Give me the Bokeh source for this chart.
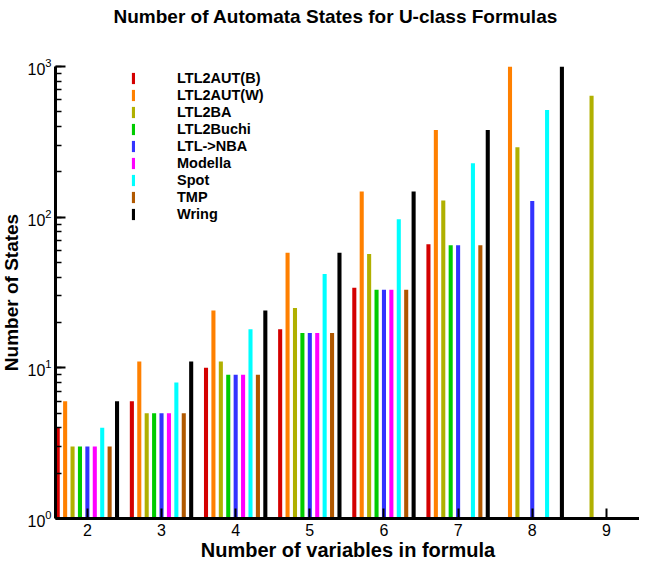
from bokeh.plotting import figure
from bokeh.models import (ColumnDataSource, Range1d, FixedTicker, Legend, LegendItem,
                          InlineStyleSheet, Title)
from bokeh.embed import file_html
from bokeh.resources import INLINE

groups = [2, 3, 4, 5, 6, 7, 8, 9]
series_names = ["LTL2AUT(B)", "LTL2AUT(W)", "LTL2BA", "LTL2Buchi", "LTL->NBA",
                "Modella", "Spot", "TMP", "Wring"]
ltl2aut_b = [4, 6, 10, 18, 34, 66, None, None]
ltl2aut_w = [6, 11, 24, 58, 148, 379, 1000, None]
ltl2ba = [3, 5, 11, 25, 57, 129, 291, 639]
ltl2buchi = [3, 5, 9, 17, 33, 65, None, None]
ltl_nba = [3, 5, 9, 17, 33, 65, 128, None]
modella = [3, 5, 9, 17, 33, None, None, None]
spot = [4, 8, 18, 42, 97, 228, 515, None]
tmp = [3, 5, 9, 17, 33, 65, None, None]
wring = [6, 11, 24, 58, 148, 379, 1000, None]
series_values = [ltl2aut_b, ltl2aut_w, ltl2ba, ltl2buchi, ltl_nba, modella, spot, tmp, wring]
colors = ["#d40000", "#ff8000", "#b0b000", "#00cc00", "#3333ff",
          "#ff00ff", "#00ffff", "#b05800", "#000000"]
offsets = [-0.4, -0.3, -0.2, -0.1, 0.0, 0.1, 0.2, 0.3, 0.4]

FONT = "Liberation Sans"

frame_css = InlineStyleSheet(css=""":host {
  margin-left: -4px; margin-top: -6px;
  border-left: 2px solid #222222; border-top: 2px solid #777777;
}""")

p = figure(width=643, height=574, output_backend="svg", toolbar_location=None,
           y_axis_type="log", x_range=Range1d(1.57, 9.46), y_range=Range1d(1, 1000),
           min_border_left=57, min_border_right=1, min_border_top=70, min_border_bottom=52,
           title="Number of Automata States for U-class Formulas")
p.stylesheets = [frame_css]

# blank spacer between the plot area and the title
p.add_layout(Title(text=" ", text_font_size="2px", standoff=31), "above")

p.title.text_font = FONT
p.title.text_font_size = "19px"
p.title.text_font_style = "bold"
p.title.text_color = "black"
p.title.align = "left"
p.title.offset = 58
p.title.standoff = 10

p.outline_line_color = None
p.xgrid.grid_line_color = None
p.ygrid.grid_line_color = None
p.background_fill_color = "white"
p.border_fill_color = "white"

items = []
for name, vals, col, off in zip(series_names, series_values, colors, offsets):
    xs = [g + off for g, v in zip(groups, vals) if v is not None]
    ts = [v for v in vals if v is not None]
    src = ColumnDataSource(dict(x=xs, top=ts))
    r = p.vbar(x="x", top="top", bottom=1, width=0.055, source=src,
               fill_color=col, line_color=None)
    items.append(LegendItem(label=name, renderers=[r]))

legend = Legend(items=items, location=(76, 296), orientation="vertical",
                glyph_width=4, glyph_height=14, label_height=14, spacing=1,
                label_standoff=42, padding=0, margin=0,
                background_fill_alpha=0, border_line_color=None,
                label_text_font=FONT, label_text_font_style="bold",
                label_text_color="black",
                label_text_font_size="14.5px")
p.add_layout(legend)

xa = p.xaxis[0]
xa.ticker = FixedTicker(ticks=groups)
xa.axis_label = "Number of variables in formula"
xa.axis_label_text_font = FONT
xa.axis_label_text_font_size = "20px"
xa.axis_label_text_font_style = "bold"
xa.axis_label_text_color = "black"
xa.axis_label_standoff = 0
xa.major_label_text_font = FONT
xa.major_label_text_font_size = "16px"
xa.major_label_text_color = "black"
xa.major_label_standoff = 5
xa.axis_line_width = 3
xa.major_tick_in = 10
xa.major_tick_out = 0
xa.major_tick_line_width = 2
xa.minor_tick_line_color = None

ya = p.yaxis[0]
ya.ticker.num_minor_ticks = 10
ya.axis_label = "Number of States"
ya.axis_label_text_font = FONT
ya.axis_label_text_font_size = "19px"
ya.axis_label_text_font_style = "bold"
ya.axis_label_text_color = "black"
ya.axis_label_standoff = 2
ya.major_label_text_font = FONT
ya.major_label_text_font_size = "16px"
ya.major_label_text_color = "black"
ya.major_label_standoff = 4
ya.axis_line_width = 3
ya.major_tick_in = 10
ya.major_tick_out = 0
ya.major_tick_line_width = 2
ya.minor_tick_in = 6
ya.minor_tick_out = 0
ya.minor_tick_line_width = 1.5

open("out.html", "w").write(file_html(p, INLINE))
